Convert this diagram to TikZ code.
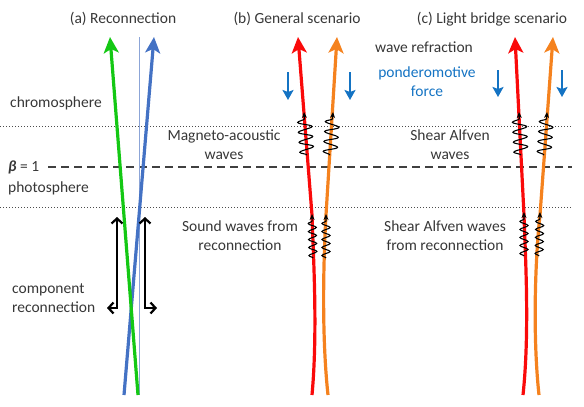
\documentclass[tikz,border=0pt]{standalone}
\usepackage{fontspec}
\setmainfont{Carlito}
\usetikzlibrary{arrows.meta,decorations.pathmorphing}
\definecolor{textgray}{RGB}{55,55,55}
\definecolor{fieldgreen}{RGB}{20,200,20}
\definecolor{fieldblue}{RGB}{68,114,196}
\definecolor{thinblue}{RGB}{140,165,215}
\definecolor{fieldred}{RGB}{250,10,10}
\definecolor{fieldorange}{RGB}{245,130,30}
\definecolor{forceblue}{RGB}{20,115,195}

\begin{document}
\begin{tikzpicture}[x=1pt,y=-1pt,
      every node/.style={inner sep=0pt,font=\fontsize{15.5}{19}\selectfont,text=textgray},
      field/.style={line width=3.2pt,-{Stealth[length=16pt,width=15pt,inset=4pt]}},
      level/.style={line width=1pt,black!70,dotted},
      betaline/.style={line width=1.6pt,black!75,dash pattern=on 8pt off 5pt},
      bigwave/.style={black,line width=1.1pt,decorate,
        decoration={snake,amplitude=7pt,segment length=10pt,post length=5pt},
        -{Stealth[length=6pt,width=5pt]}},
      smallwave/.style={black,line width=1.1pt,decorate,
        decoration={snake,amplitude=4pt,segment length=8pt,post length=5pt},
        -{Stealth[length=6pt,width=5pt]}},
      force/.style={forceblue,line width=2pt,-{Stealth[length=10pt,width=11pt,inset=2pt]}},
      component/.style={black,line width=2.2pt,{Straight Barb[length=5pt,width=11pt]}-{Straight Barb[length=5pt,width=11pt]}}
    ]
  \useasboundingbox (0,0) rectangle (584,407);

  % layers
  \coordinate (top0) at (0,126);   \coordinate (top1) at (572,126);
  \coordinate (beta0) at (48,167); \coordinate (beta1) at (572,167);
  \coordinate (low0) at (0,207);   \coordinate (low1) at (572,207);
  \draw[level] (top0) -- (top1);
  \draw[betaline] (beta0) -- (beta1);
  \draw[level] (low0) -- (low1);

  % labels
  \node[anchor=base] (titlea) at (123,23) {(a) Reconnection};
  \node[anchor=base] (titleb) at (297,23) {(b) General scenario};
  \node[anchor=base] (titlec) at (492,23) {(c) Light bridge scenario};
  \node[anchor=base west] (chromo) at (10,107) {chromosphere};
  \node[anchor=base west] (beta) at (8,171) {\textbf{\textit{β}} = 1};
  \node[anchor=base west] (photo) at (8,192) {photosphere};
  \node[anchor=west,align=left] (comp) at (12,298.5) {component\\reconnection};
  \node[align=center] (magneto) at (224,144.5) {Magneto-acoustic\\waves};
  \node[align=center] (sound) at (240,236) {Sound waves from\\reconnection};
  \node[align=center] (alfven) at (450,144.5) {Shear Alfven\\waves};
  \node[align=center] (alfvenrec) at (445,236) {Shear Alfven waves\\from reconnection};
  \node[anchor=base] (refrac) at (424,52) {wave refraction};
  \node[align=center,text=forceblue] (ponder) at (427,82) {ponderomotive\\force};

  % (a) reconnection
  \coordinate (thin0) at (139,395); \coordinate (thin1) at (139,37);
  \draw[thinblue,line width=1pt] (thin0) -- (thin1);
  \coordinate (blue0) at (124,395);  \coordinate (blue1) at (154,37);
  \coordinate (green0) at (138,395); \coordinate (green1) at (110,37);
  \draw[field,fieldblue] (blue0) -- (blue1);
  \draw[field,fieldgreen] (green0) -- (green1);
  \coordinate (cl0) at (117,217); \coordinate (cl1) at (117,308); \coordinate (cl2) at (107,308);
  \coordinate (cr0) at (145,217); \coordinate (cr1) at (145,308); \coordinate (cr2) at (157,308);
  \draw[component] (cl0) -- (cl1) -- (cl2);
  \draw[component] (cr0) -- (cr1) -- (cr2);

  % (b) general scenario
  \coordinate (rb0) at (312,395); \coordinate (rb1) at (312,215); \coordinate (rb2) at (298,37);
  \coordinate (ob0) at (328,395); \coordinate (ob1) at (326,215); \coordinate (ob2) at (337,37);
  \draw[field,fieldred] (rb0) .. controls (318,330) and (313,250) .. (rb1) -- (rb2);
  \draw[field,fieldorange] (ob0) .. controls (321,330) and (324,250) .. (ob1) -- (ob2);
  \draw[bigwave] (307,155) -- (304,112);
  \draw[bigwave] (330,155) -- (333,112);
  \draw[smallwave] (313,258) -- (312,214);
  \draw[smallwave] (326,258) -- (326,214);
  \draw[force] (288,72) -- (288,100);
  \draw[force] (350,72) -- (350,100);

  % (c) light bridge scenario
  \coordinate (rc0) at (523,395); \coordinate (rc1) at (524,215); \coordinate (rc2) at (515,37);
  \coordinate (oc0) at (539,395); \coordinate (oc1) at (540,215); \coordinate (oc2) at (553,37);
  \draw[field,fieldred] (rc0) .. controls (530,330) and (525,250) .. (rc1) -- (rc2);
  \draw[field,fieldorange] (oc0) .. controls (532,330) and (536,250) .. (oc1) -- (oc2);
  \draw[bigwave] (521,155) -- (519,112);
  \draw[bigwave] (544,155) -- (547,112);
  \draw[smallwave] (524,256) -- (524,212);
  \draw[smallwave] (539,256) -- (540,212);
  \draw[force] (498,70) -- (498,97);
  \draw[force] (562,70) -- (562,97);
\end{tikzpicture}
\end{document}
